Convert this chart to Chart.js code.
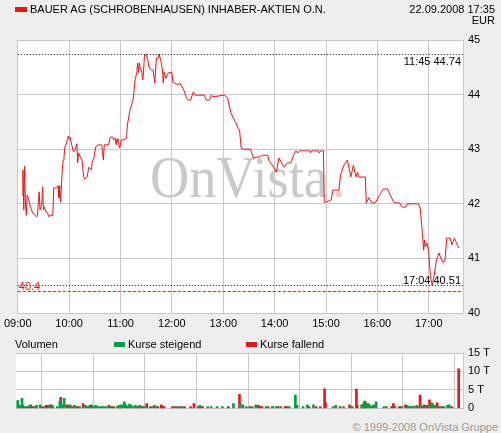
<!DOCTYPE html>
<html lang="de">
<head>
<meta charset="UTF-8">
<title>BAUER AG Intraday</title>
<script src="https://cdn.jsdelivr.net/npm/chart.js@4"></script>
<style>
  body { margin: 0; background: #eeeeee; font-family: "Liberation Sans", Arial, sans-serif; font-size: 11px; color: #000; }
  .wrap { position: relative; width: 501px; height: 433px; overflow: hidden; }
  canvas { position: absolute; left: 0; }
  .txt { position: absolute; white-space: nowrap; line-height: 12px; z-index: 2; }
  .box { position: absolute; z-index: 2; }
</style>
</head>
<body>
<div class="wrap">
  <div class="box" style="left:15px;top:7px;width:12px;height:5px;background:#e8161b"></div>
  <div class="txt" style="left:30px;top:3px">BAUER AG (SCHROBENHAUSEN) INHABER-AKTIEN O.N.</div>
  <div class="txt" style="right:6px;top:3px;text-align:right">22.09.2008 17:35</div>
  <div class="txt" style="right:6px;top:14px;text-align:right">EUR</div>

  <canvas id="price" width="501" height="335" style="top:0"></canvas>
  <canvas id="vol" width="501" height="85" style="top:335px"></canvas>

  <div class="txt" style="left:15px;top:338px">Volumen</div>
  <div class="box" style="left:114px;top:342px;width:11px;height:5px;background:#00a040"></div>
  <div class="txt" style="left:128px;top:338px">Kurse steigend</div>
  <div class="box" style="left:246px;top:342px;width:11px;height:5px;background:#e8161b"></div>
  <div class="txt" style="left:260px;top:338px">Kurse fallend</div>
  <div class="txt" style="right:3px;top:421px;color:#9a9a9a">© 1999-2008 OnVista Gruppe</div>
</div>

<script>
// minutes after 09:00 and the traded price
const priceMin = [5,6,7,8,9,10,11,13,14,16,17,20,22,23,24,25,26,28,29,30,31,33,35,36,37,38,40,41,42,45,47,48,49,50,52,53,54,55,57,58,59,60,61,63,65,67,69,70,71,73,75,77,78,81,83,86,87,89,91,94,98,100,101,106,108,111,112,114,115,116,117,119,121,124,127,128,131,133,135,137,139,140,141,142,143,145,146,147,148,150,152,153,156,158,160,161,162,164,165,167,169,170,171,173,176,180,181,183,187,189,192,194,197,199,202,205,207,218,220,224,226,228,241,245,249,253,255,257,259,261,264,272,275,282,286,292,293,298,302,305,311,315,319,322,325,327,329,341,342,343,351,352,354,357,358,360,366,368,375,377,381,385,389,392,395,397,398,406,407,410,414,418,424,427,432,435,439,443,445,449,453,455,457,468,470,472,474,475,476,478,480,482,484,486,489,492,494,497,499,501,505,507,510,515];
const prices = [42.16,42.62,41.89,42.69,41.98,41.79,42.16,42.07,41.98,41.89,41.85,41.79,41.76,41.79,42.01,42.22,41.89,41.98,42.31,41.89,41.94,41.85,41.83,41.76,41.79,41.78,41.79,41.83,42.29,42.29,42.33,42.11,42.33,42.03,42.62,42.80,42.86,43.04,43.11,43.19,43.24,43.19,43.22,43.08,42.95,42.99,43.10,42.75,42.93,42.86,42.80,42.49,42.45,42.49,42.67,42.62,42.77,42.84,43.04,43.08,43.08,42.80,43.08,43.08,43.22,43.22,43.17,43.20,43.08,43.19,43.13,43.02,43.17,43.17,43.20,43.44,43.72,43.81,43.94,44.27,44.40,44.58,44.40,44.58,44.49,44.40,44.27,44.45,44.73,44.73,44.63,44.51,44.45,44.45,44.21,44.45,44.67,44.67,44.74,44.63,44.45,44.21,44.41,44.30,44.40,44.41,44.23,44.21,44.18,44.21,44.14,44.08,43.94,43.90,43.90,44.05,43.99,43.99,43.90,43.90,43.99,43.96,43.99,43.94,43.66,43.53,43.48,43.39,43.35,43.02,43.00,43.00,42.84,42.86,42.89,42.89,42.80,42.69,42.58,42.84,42.67,42.75,42.75,42.89,42.97,42.93,42.97,42.97,42.93,42.97,42.97,42.93,42.97,42.97,42.03,42.03,42.07,42.25,42.25,42.53,42.71,42.80,42.49,42.71,42.49,42.58,42.49,42.49,42.01,42.11,42.01,42.03,42.20,42.27,42.27,42.16,42.03,42.01,42.03,41.94,41.94,42.00,42.00,42.00,41.92,41.56,41.15,41.34,41.21,41.28,41.10,40.66,40.51,40.66,40.97,41.10,41.01,40.92,40.97,41.37,41.37,41.25,41.37,41.19];

// volume in thousands, minutes after 09:00
const volUpMin = [2,5,7,10,14,16,22,24,28,33,38,42,43,48,51,54,56,62,66,68,74,81,84,88,91,93,95,98,100,102,105,109,114,120,121,123,126,128,132,134,139,141,144,149,156,161,163,182,189,193,214,215,223,227,234,240,253,261,264,268,275,279,291,298,299,303,308,318,325,327,334,339,346,369,372,381,390,402,403,406,409,410,412,416,419,428,431,441,449,455,457,459,461,462,466,471,477,482,484,485,487,491,497,502,504];
const volUp = [2.1,0.8,2.7,0.5,0.5,0.8,0.5,0.8,1.0,0.5,0.8,1.0,0.5,0.5,2.0,1.0,2.7,0.8,0.5,0.8,0.5,0.8,0.5,1.0,0.5,0.8,0.5,0.5,0.5,0.5,0.5,0.5,0.5,0.8,0.8,1.0,1.8,1.0,1.2,0.8,0.8,0.5,0.8,0.5,0.5,0.8,0.5,0.5,0.5,0.5,0.8,0.5,0.5,0.5,0.5,0.5,1.3,1.5,1.0,0.5,0.5,1.0,0.5,0.5,0.5,0.5,0.5,0.5,3.6,0.8,0.5,1.0,1.0,0.5,0.8,0.5,0.5,1.0,1.0,2.0,1.0,1.3,0.8,1.0,1.8,0.5,0.5,0.5,0.5,0.8,0.5,0.5,0.5,0.5,0.8,1.0,0.8,1.0,1.5,1.0,0.8,0.5,0.5,0.8,1.0];
const volDownMin = [3,8,12,17,20,23,30,35,36,40,52,59,63,64,70,72,78,86,108,112,118,122,130,137,142,147,152,158,165,169,170,171,172,183,186,191,196,203,207,212,217,247,260,272,282,284,286,293,305,313,315,341,349,354,359,360,377,388,391,396,397,404,405,407,414,437,439,446,448,453,463,467,470,473,475,478,481,490,492,495,498,507,515];
const volDown = [0.8,0.8,0.5,1.0,0.5,0.5,0.5,0.8,0.8,1.0,3.0,1.0,1.0,0.5,0.5,0.5,1.3,0.8,0.8,0.5,0.5,0.8,0.5,0.5,0.5,0.5,1.3,0.5,0.5,1.0,0.5,0.5,0.5,0.5,0.5,0.5,0.5,0.5,1.3,0.5,0.5,0.5,3.8,0.5,0.8,0.5,0.5,0.5,0.5,0.5,0.5,0.5,0.5,0.5,5.3,1.5,0.5,1.0,0.5,5.2,0.8,1.0,1.8,1.5,0.5,0.5,1.3,0.5,0.5,1.0,0.5,0.5,3.6,0.5,1.0,0.8,2.3,1.5,0.5,0.5,0.5,0.5,10.7];

const priceTicks = [40, 41, 42, 43, 44, 45];
const dayHigh = { time: '11:45', value: 44.74 };
const dayLow = { time: '17:04', value: 40.51 };
const prevClose = 40.4;

const RED = '#e8161b', GREEN = '#00a040', GRID = '#c8c8c8';
Chart.defaults.font.family = '"Liberation Sans", Arial, sans-serif';
Chart.defaults.font.size = 11;
Chart.defaults.color = '#000';

function hhmm(m) {
  const h = 9 + Math.floor(m / 60), mm = m % 60;
  return String(h).padStart(2, '0') + ':' + String(mm).padStart(2, '0');
}

const whiteBg = {
  id: 'whiteBg',
  beforeDraw(c) {
    const a = c.chartArea, ctx = c.ctx;
    ctx.save();
    ctx.fillStyle = '#fff';
    ctx.fillRect(a.left, a.top, a.right - a.left, a.bottom - a.top);
    ctx.restore();
  }
};

function hline(c, val, color, dash) {
  const ctx = c.ctx, a = c.chartArea;
  const y = Math.round(c.scales.y.getPixelForValue(val)) + 0.5;
  ctx.save();
  ctx.strokeStyle = color;
  ctx.lineWidth = 1;
  ctx.setLineDash(dash);
  ctx.beginPath();
  ctx.moveTo(a.left, y);
  ctx.lineTo(a.right, y);
  ctx.stroke();
  ctx.restore();
  return y;
}

const priceDeco = {
  id: 'priceDeco',
  beforeDatasetsDraw(c) {
    // OnVista watermark
    const ctx = c.ctx;
    ctx.save();
    ctx.font = '60px "Liberation Serif", "DejaVu Serif", serif';
    ctx.fillStyle = '#c9c9c9';
    ctx.textBaseline = 'alphabetic';
    const w = ctx.measureText('OnVista').width;
    const sx = 178 / w;
    ctx.translate(150, 197);
    ctx.scale(sx, 1);
    ctx.fillText('OnVista', 0, 0);
    ctx.fillStyle = '#f2c9cc';
    ctx.fillText('.', w + 4 / sx, 0);
    ctx.restore();
  },
  afterDatasetsDraw(c) {
    const ctx = c.ctx, a = c.chartArea;
    const yHigh = hline(c, dayHigh.value, '#000', [1, 2]);
    const yLow = hline(c, dayLow.value, '#000', [1, 2]);
    const yPrev = hline(c, prevClose, RED, [3, 2]);
    ctx.save();
    ctx.font = '11px "Liberation Sans", Arial, sans-serif';
    ctx.fillStyle = '#000';
    ctx.textAlign = 'right';
    ctx.textBaseline = 'middle';
    ctx.fillText(dayHigh.time + ' ' + dayHigh.value.toFixed(2), a.right - 2, yHigh + 7);
    ctx.fillText(dayLow.time + ' ' + dayLow.value.toFixed(2), a.right - 2, yLow - 5);
    ctx.textAlign = 'left';
    ctx.fillStyle = RED;
    ctx.fillText(String(prevClose), a.left + 1, yPrev - 5);
    ctx.restore();
  }
};

const xHours = {
  type: 'linear', min: 0, max: 520,
  afterBuildTicks(s) { s.ticks = s.ticks.filter(t => t.value % 60 === 0); },
  grid: { color: GRID, drawTicks: false },
  border: { display: true, color: GRID }
};

new Chart(document.getElementById('price'), {
  type: 'line',
  data: {
    datasets: [{
      data: priceMin.map((m, i) => ({ x: m, y: prices[i] })),
      borderColor: RED,
      borderWidth: 1,
      pointRadius: 0,
      tension: 0
    }]
  },
  options: {
    responsive: false, animation: false,
    layout: { padding: { left: 16, top: 40, right: 0, bottom: 0 } },
    plugins: { legend: { display: false }, tooltip: { enabled: false } },
    scales: {
      x: Object.assign({}, xHours, {
        afterFit(s) { s.height = 22; },
        ticks: { stepSize: 60, padding: 4, autoSkip: false, maxRotation: 0, callback: v => hhmm(v) }
      }),
      y: {
        position: 'right', min: 40, max: 45,
        afterBuildTicks(s) { s.ticks = priceTicks.map(v => ({ value: v })); },
        afterFit(s) { s.width = 38; },
        grid: { color: GRID, drawTicks: false },
        border: { display: true, color: GRID },
        ticks: { padding: 5 }
      }
    }
  },
  plugins: [whiteBg, priceDeco]
});

new Chart(document.getElementById('vol'), {
  type: 'bar',
  data: {
    datasets: [
      { data: volUpMin.map((m, i) => ({ x: m, y: volUp[i] })), backgroundColor: GREEN, barThickness: 2, grouped: false },
      { data: volDownMin.map((m, i) => ({ x: m, y: volDown[i] })), backgroundColor: RED, barThickness: 2, grouped: false }
    ]
  },
  options: {
    responsive: false, animation: false,
    layout: { padding: { left: 16, top: 18, right: 0, bottom: 0 } },
    plugins: { legend: { display: false }, tooltip: { enabled: false } },
    scales: {
      x: Object.assign({}, xHours, {
        offset: false,
        afterFit(s) { s.height = 7; },
        ticks: { stepSize: 60, display: false }
      }),
      y: {
        position: 'right', min: 0, max: 15,
        afterFit(s) { s.width = 38; },
        grid: { color: GRID, drawTicks: false },
        border: { display: true, color: GRID },
        ticks: { stepSize: 5, padding: 5, callback: v => v === 0 ? '0' : v + ' T' }
      }
    }
  },
  plugins: [whiteBg]
});
</script>
</body>
</html>
